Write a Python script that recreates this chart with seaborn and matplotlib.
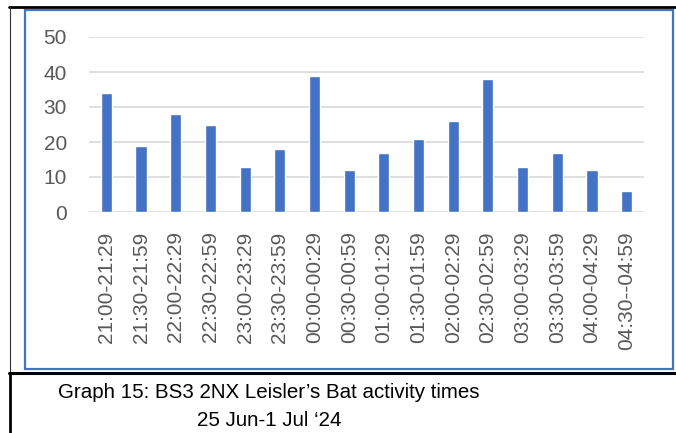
import matplotlib
matplotlib.use("Agg")
import matplotlib.pyplot as plt
from matplotlib.lines import Line2D
from matplotlib.patches import Rectangle
import pandas as pd
import seaborn as sns

# ── Data ────────────────────────────────────────────────────────
time_slots = [
    "21:00-21:29", "21:30-21:59", "22:00-22:29", "22:30-22:59",
    "23:00-23:29", "23:30-23:59", "00:00-00:29", "00:30-00:59",
    "01:00-01:29", "01:30-01:59", "02:00-02:29", "02:30-02:59",
    "03:00-03:29", "03:30-03:59", "04:00-04:29", "04:30--04:59",
]
passes = [34, 19, 28, 25, 13, 18, 39, 12, 17, 21, 26, 38, 13, 17, 12, 6]
y_ticks = [0, 10, 20, 30, 40, 50]
caption = "Graph 15: BS3 2NX Leisler\u2019s Bat activity times\n25 Jun-1 Jul \u201824"

df = pd.DataFrame({"slot": time_slots, "count": passes})

sns.set_theme(style="white")
plt.rcParams["font.family"] = ["Liberation Sans", "DejaVu Sans"]

W, H = 676, 433
fig = plt.figure(figsize=(W / 100, H / 100), dpi=100)
ax = fig.add_axes([89 / W, 1 - 212 / H, (644 - 89) / W, (212 - 37) / H])

sns.barplot(data=df, x="slot", y="count", color="#4472C4", width=0.32,
            saturation=1, ax=ax, zorder=3)

ax.set_ylim(0, 50)
ax.set_yticks(y_ticks)
ax.set_xlim(-0.5, len(time_slots) - 0.5)
ax.grid(axis="y", color="#d9d9d9", linewidth=1.2, zorder=0)
for s in ax.spines.values():
    s.set_visible(False)
ax.set_xlabel("")
ax.set_ylabel("")
ax.tick_params(axis="x", length=0, pad=14, labelsize=15,
               labelcolor="#595959", rotation=90)
ax.tick_params(axis="y", length=0, pad=16, labelsize=15, labelcolor="#595959")

# ── Frames round chart and caption ──────────────────────────────
fig.add_artist(Rectangle((25 / W, 1 - 369 / H), (673 - 25) / W, (369 - 10) / H,
                         transform=fig.transFigure, fill=False,
                         edgecolor="#4472C4", linewidth=1.6))
fig.add_artist(Line2D([9 / W, 1], [1 - 7 / H] * 2, transform=fig.transFigure,
                      color="black", linewidth=2))
fig.add_artist(Line2D([10 / W] * 2, [1 - 373 / H, 1 - 7 / H],
                      transform=fig.transFigure, color="#333333", linewidth=0.8))
fig.add_artist(Line2D([10 / W] * 2, [0, 1 - 373 / H],
                      transform=fig.transFigure, color="black", linewidth=2))
fig.add_artist(Line2D([9 / W, 1], [1 - 373 / H] * 2, transform=fig.transFigure,
                      color="black", linewidth=2.2))

fig.text(269 / W, 1 - 406 / H, caption, ha="center", va="center",
         multialignment="center", fontsize=14.8, color="black",
         linespacing=1.6)

fig.savefig("out.png", dpi=100)
